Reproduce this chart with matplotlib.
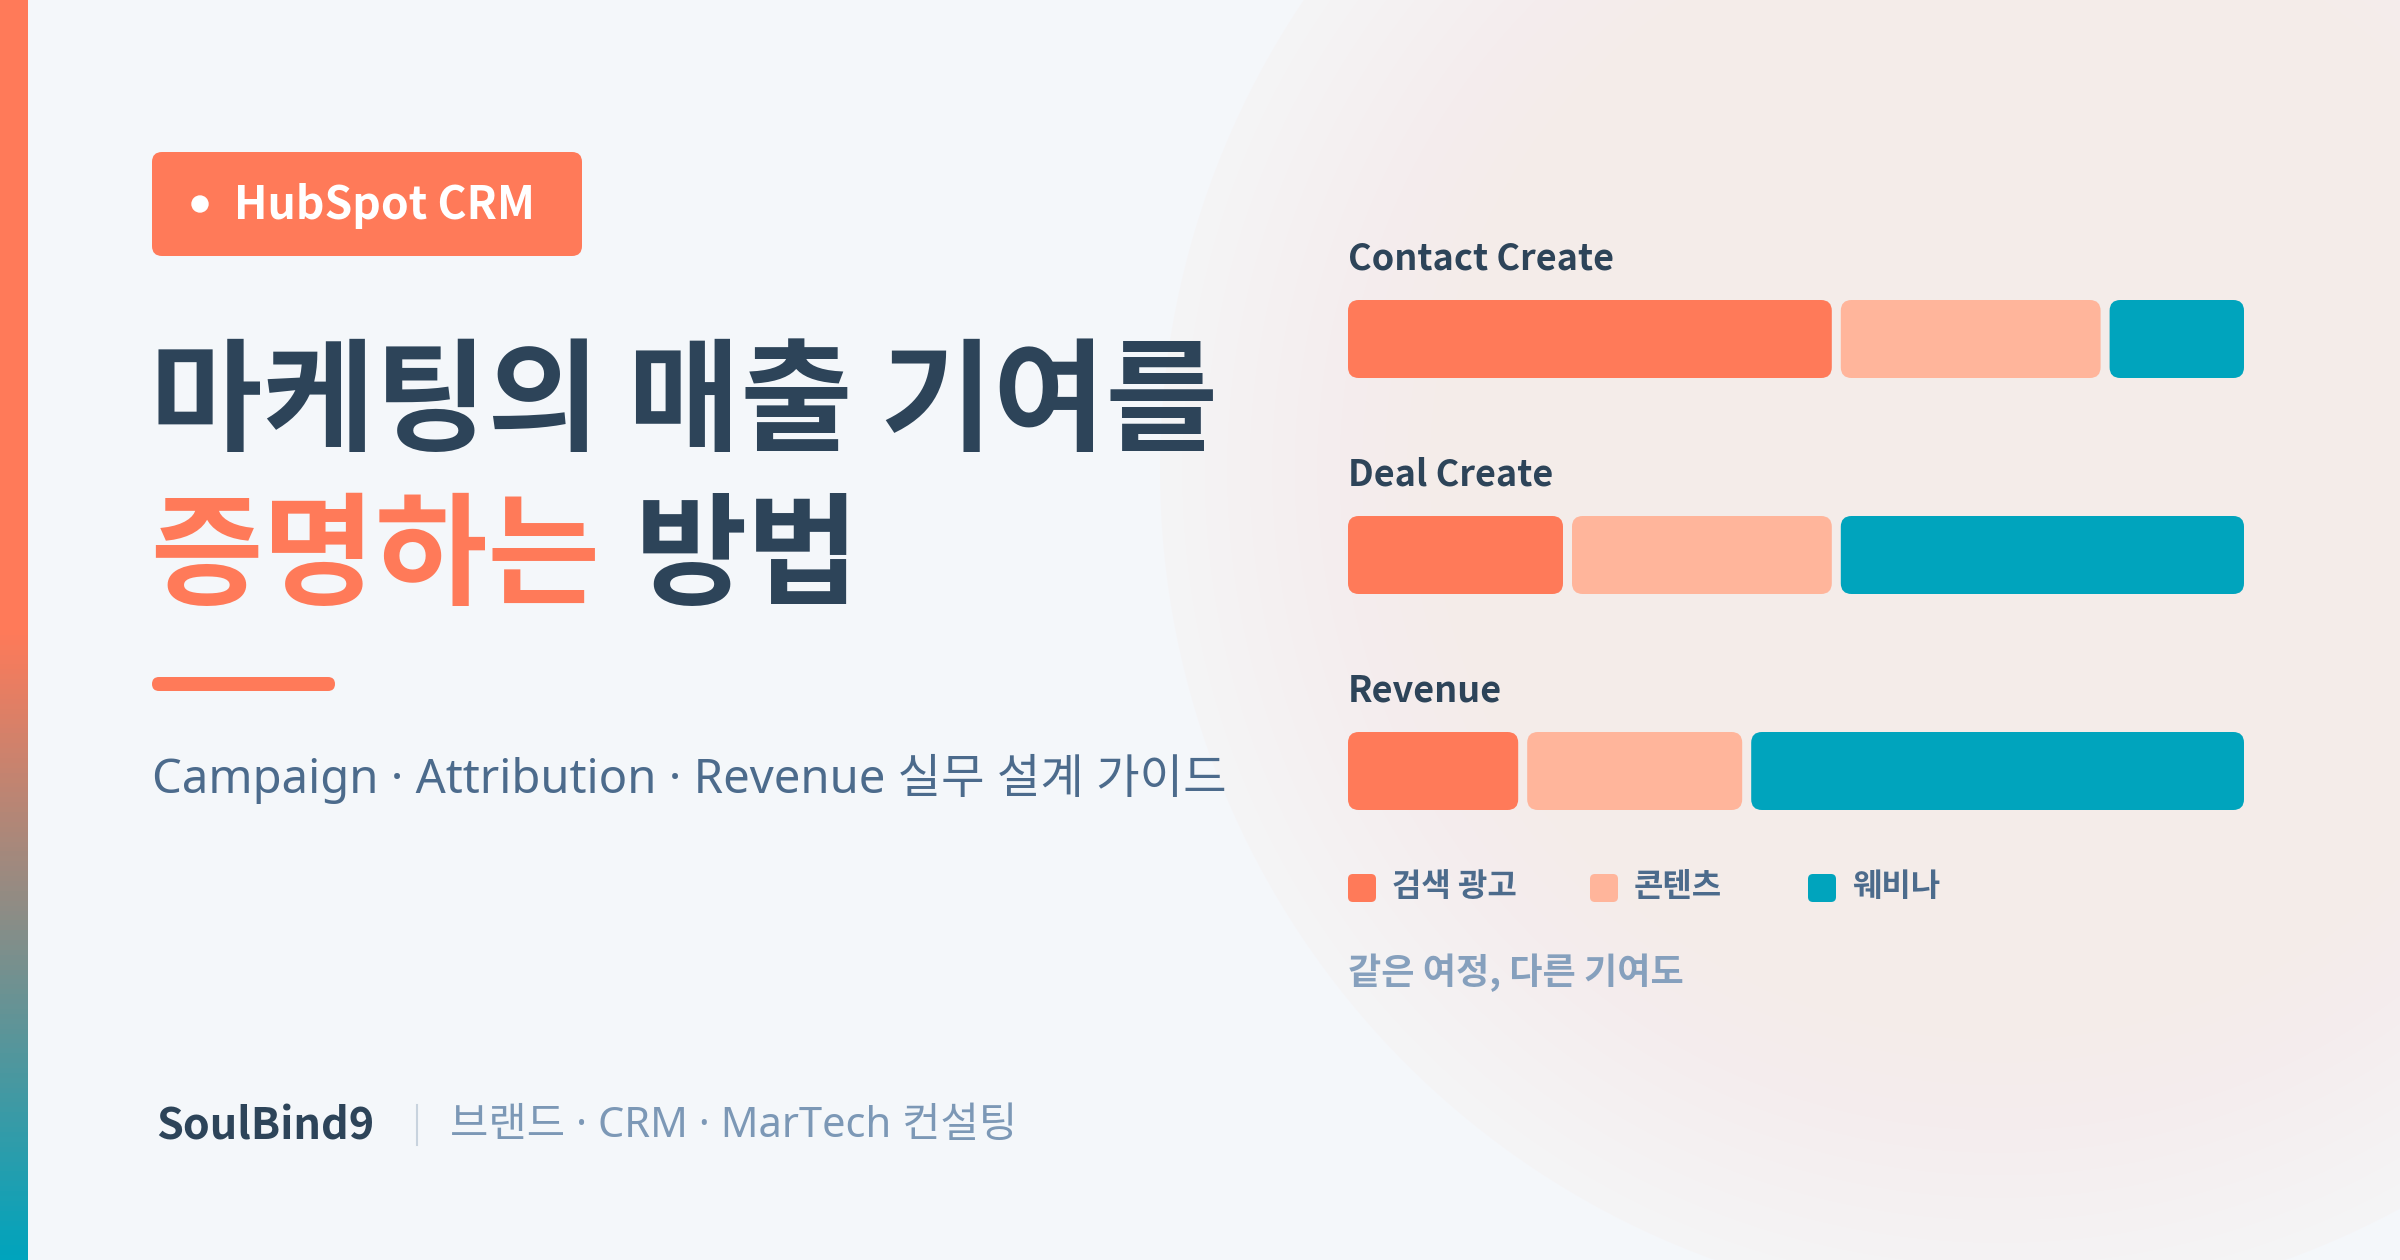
import matplotlib
matplotlib.use("Agg")
import matplotlib.pyplot as plt
import numpy as np
from matplotlib.patches import FancyBboxPatch, Rectangle, Circle
from matplotlib.colors import LinearSegmentedColormap

plt.rcParams['font.family'] = ['Noto Sans CJK KR', 'DejaVu Sans']

stages = ["Contact Create", "Deal Create", "Revenue"]
channels = ["검색 광고", "콘텐츠", "웨비나"]
shares = {
    "검색 광고": [55, 25, 20],
    "콘텐츠": [30, 30, 25],
    "웨비나": [15, 45, 55],
}
colors = ["#ff7a59", "#ffb59b", "#00a4bd"]

W, H = 2400, 1260
NAVY = "#2d4459"
LATIN = ['Noto Sans', 'Noto Sans CJK KR']
fig = plt.figure(figsize=(24, 12.6), dpi=100)
bg = fig.add_axes([0, 0, 1, 1])
bg.set_xlim(0, W); bg.set_ylim(H, 0); bg.axis('off')
bg.add_patch(Rectangle((0, 0), W, H, color="#f4f7fa", zorder=0))
for i, r in enumerate(np.linspace(840, 300, 25)):
    bg.add_patch(Circle((2000, 470), r, color=(0.965, 0.925, 0.915),
                        alpha=0.25 if i == 0 else 0.05, lw=0, zorder=1))
grad = np.linspace(0, 1, 256).reshape(-1, 1)
cm = LinearSegmentedColormap.from_list("s", ["#ff7a59", "#ff7a59", "#00a4bd"])
bg.imshow(grad, cmap=cm, extent=[0, 28, H, 0], aspect='auto', zorder=2)
bg.set_xlim(0, W); bg.set_ylim(H, 0)

bg.add_patch(FancyBboxPatch((152, 152), 430, 104, boxstyle="round,pad=0,rounding_size=10",
                            color="#ff7a59", lw=0, zorder=3))
bg.add_patch(Circle((200, 204), 8, color="white", zorder=4))
bg.text(234, 206, "HubSpot CRM", color="white", fontsize=32, fontweight='bold',
        va='center', zorder=4)

bg.text(150, 405, "마케팅의 매출 기여를", color=NAVY, fontsize=88, fontweight='black', va='center', zorder=4)
bg.text(150, 559, "증명하는", color="#ff7a59", fontsize=88, fontweight='black', va='center', zorder=4)
bg.text(635, 559, "방법", color=NAVY, fontsize=88, fontweight='black', va='center', zorder=4)
bg.add_patch(FancyBboxPatch((152, 677), 183, 14, boxstyle="round,pad=0,rounding_size=7",
                            color="#ff7a59", lw=0, zorder=3))
bg.text(152, 779, "Campaign · Attribution · Revenue 실무 설계 가이드", color="#4c6b8c",
        fontsize=34, va='center', zorder=4, family=LATIN)
bg.text(156, 1126, "SoulBind9", color=NAVY, fontsize=31, fontweight='bold', va='center', zorder=4)
bg.plot([417, 417], [1105, 1145], color="#c8d3de", lw=1.5, zorder=4)
bg.text(450, 1126, "브랜드 · CRM · MarTech 컨설팅", color="#7c98b6", fontsize=30, va='center',
        zorder=4, family=LATIN)

ax = fig.add_axes([1348 / W, 1 - 879 / H, 896 / W, 648 / H])
ax.set_xlim(0, 100); ax.set_ylim(2.5, -0.5); ax.axis('off')
ypos = np.arange(len(stages))
h = 78 / 216
gap = 9 * 100 / 896
aspect = (1 / 216) / (100 / 896)
left = np.zeros(len(stages))
for j, ch in enumerate(channels):
    vals = np.array(shares[ch], dtype=float)
    bars = ax.barh(ypos, vals, left=left, height=h, color=colors[j], alpha=0)
    for b in bars:
        x0, y0, w, hh = b.get_x(), b.get_y(), b.get_width(), b.get_height()
        if j < len(channels) - 1:
            w -= gap
        ax.add_patch(FancyBboxPatch((x0, y0), w, hh,
                                    boxstyle="round,pad=0,rounding_size=1.2",
                                    mutation_aspect=aspect, color=colors[j], lw=0))
    left += vals
for k, s in enumerate(stages):
    ax.text(0, k - 0.37, s, color=NAVY, fontsize=26, fontweight='bold', va='center')

lx = [1348, 1590, 1808]
for j, ch in enumerate(channels):
    bg.add_patch(FancyBboxPatch((lx[j], 874), 28, 28, boxstyle="round,pad=0,rounding_size=5",
                                color=colors[j], lw=0, zorder=4))
    bg.text(lx[j] + 44, 887, ch, color="#4c6b8c", fontsize=23, fontweight='bold', va='center', zorder=4)
bg.text(1348, 973, "같은 여정, 다른 기여도", color="#86a0bd", fontsize=26, fontweight='bold',
        va='center', zorder=4)

fig.savefig("out.png", dpi=100)
